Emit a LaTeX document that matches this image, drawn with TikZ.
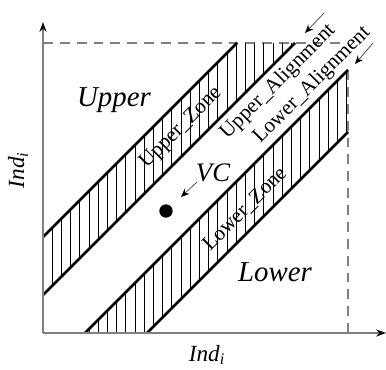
\documentclass[tikz,border=0pt]{standalone}
\usepackage{fontspec}
\setmainfont{Liberation Serif}
\usetikzlibrary{arrows.meta}

\begin{document}
\begin{tikzpicture}[x=0.25mm, y=0.25mm,
    axis/.style={draw=gray, line width=1.3pt, -{Stealth[black, length=7pt, width=5pt]}},
    guide/.style={draw=gray, line width=1pt, dash pattern=on 7pt off 5pt},
    bound/.style={draw=black, line width=2pt},
    hatch/.style={draw=black, line width=0.55pt},
    pointer/.style={draw=gray!70!black, line width=0.6pt, -{Stealth[black, length=6pt, width=5pt]}},
    zonetext/.style={font=\fontsize{15}{15}\selectfont, rotate=45},
    regiontext/.style={font=\fontsize{20.5}{20.5}\selectfont\itshape}]

    \useasboundingbox (-43,-37) rectangle (343,333);

    % ==========================================
    % 1. Corners of the two zones
    % ==========================================
    \coordinate (o) at (0,0);
    \coordinate (u1) at (0,96);
    \coordinate (u2) at (194,290);
    \coordinate (u3) at (252,290);
    \coordinate (u4) at (0,38);
    \coordinate (l1) at (42,0);
    \coordinate (l2) at (305,263);
    \coordinate (l3) at (305,201);
    \coordinate (l4) at (104,0);

    % dashed limits
    \coordinate (top0) at (0,290);
    \coordinate (top1) at (297,290);
    \coordinate (right0) at (305,0);
    \coordinate (right1) at (305,261);
    \draw[guide] (top0) -- (top1);
    \draw[guide] (right0) -- (right1);

    % ==========================================
    % 2. Hatching inside the zones
    % ==========================================
    \begin{scope}
        \clip (u1) -- (u2) -- (u3) -- (u4) -- cycle;
        \foreach \x in {9.2,18.4,...,300}
            \draw[hatch] (\x,0) -- (\x,300);
    \end{scope}
    \begin{scope}
        \clip (l1) -- (l2) -- (l3) -- (l4) -- cycle;
        \foreach \x in {9.2,18.4,...,310}
            \draw[hatch] (\x,0) -- (\x,300);
    \end{scope}

    % zone borders
    \draw[bound] (u1) -- (u2);
    \draw[bound] (u4) -- (u3);
    \draw[bound] (l1) -- (l2);
    \draw[bound] (l4) -- (l3);

    % ==========================================
    % 3. Axes
    % ==========================================
    \coordinate (xend) at (343,0);
    \coordinate (yend) at (0,311);
    \draw[axis] (o) -- (xend);
    \draw[axis] (o) -- (yend);
    \node[font=\fontsize{16.5}{16.5}\selectfont] (xlabel) at (164,-22) {\textit{Ind}\textsubscript{\textit{i}}};
    \node[font=\fontsize{16.5}{16.5}\selectfont, rotate=90] (ylabel) at (-25,163) {\textit{Ind}\textsubscript{\textit{i}}};

    % ==========================================
    % 4. Labels
    % ==========================================
    \node[regiontext] (upper) at (71,233) {Upper};
    \node[regiontext] (lower) at (232,61) {Lower};
    \node[zonetext] (uzone) at (138,205) {Upper\_Zone};
    \node[zonetext] (lzone) at (202,124) {Lower\_Zone};
    \node[zonetext] (ualign) at (235,251) {Upper\_Alignment};
    \node[zonetext] (lalign) at (269,248) {Lower\_Alignment};

    % arrows onto the alignments
    \coordinate (uatail) at (281,320);
    \coordinate (uahead) at (262,300);
    \coordinate (latail) at (330,290);
    \coordinate (lahead) at (312,269);
    \draw[pointer] (uatail) -- (uahead);
    \draw[pointer] (latail) -- (lahead);

    % the point VC
    \node[circle, fill=black, inner sep=0pt, minimum size=9.5pt] (vc) at (123,122) {};
    \node[font=\fontsize{19}{19}\selectfont\itshape] (vclabel) at (170,160) {VC};
    \coordinate (vctail) at (154,151);
    \coordinate (vchead) at (138,136);
    \draw[pointer] (vctail) -- (vchead);

\end{tikzpicture}
\end{document}
